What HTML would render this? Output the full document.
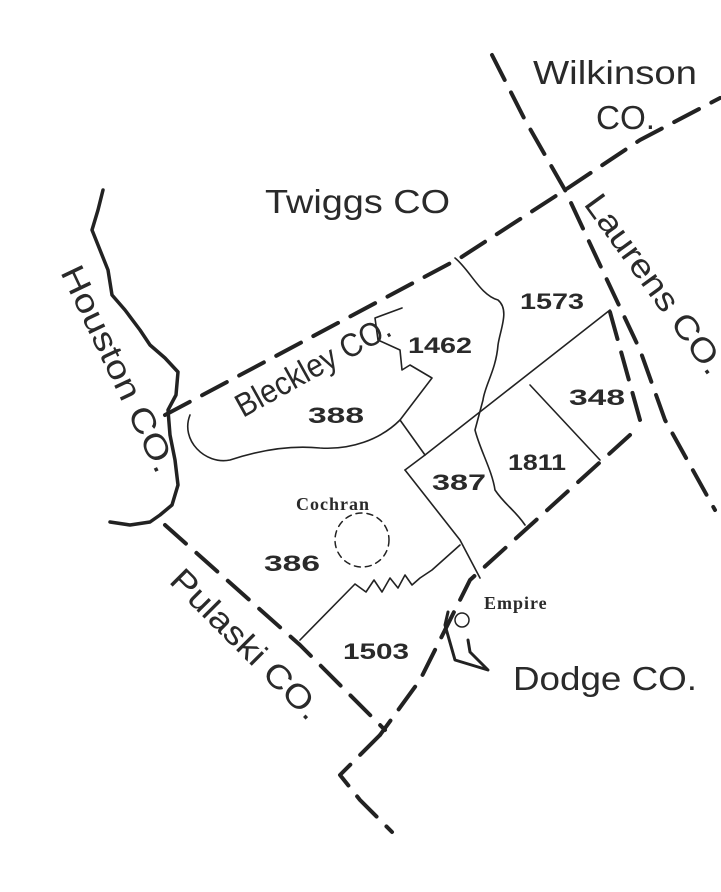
<!DOCTYPE html>
<html><head><meta charset="utf-8"><style>
html,body{margin:0;padding:0;background:#fff;}
svg{display:block}
text{font-family:"Liberation Sans",sans-serif;fill:#2a2a2a}
.s{font-family:"Liberation Serif",serif}
</style></head><body>
<svg width="721" height="892" viewBox="0 0 721 892">
<g fill="none" stroke="#222" stroke-linecap="round" stroke-linejoin="round">
<g stroke-width="4" stroke-dasharray="28,14">
<path d="M165,415 L460,258 L565,190 L640,140 L720,98"/>
<path d="M492,55 L525,120 L565,190 L600,265 L640,350 L665,420 L715,510"/>
<path d="M630,435 L470,580 L420,680 L380,735"/>
<path d="M165,525 L300,645 L385,730"/>
<path d="M380,735 L340,775 L360,800 L392,832"/>
<path d="M610,312 L640,420"/>
</g>
<path stroke-width="3.5" d="M103,190 L98,210 L92,230 L100,250 L108,270 L112,295 L125,310 L140,330 L150,345 L165,358 L178,372 L176,395 L168,410 L170,435 L175,460 L178,485 L172,505 L160,515 L150,522 L130,525 L110,522"/>
<g stroke-width="1.6">
<path d="M190,415 C180,440 205,465 230,460 C260,450 290,445 320,448 C350,450 380,440 400,420 L432,378 L410,365 L402,370 L400,350 L378,340 L375,318 L402,308"/>
<path d="M400,420 L425,455"/>
<path d="M425,455 L610,310"/>
<path d="M455,258 C470,270 480,295 498,300 C510,310 500,330 498,345 C496,370 485,385 483,400 L475,430 C480,450 492,470 495,490 C505,505 515,510 525,525"/>
<path d="M530,385 L600,460"/>
<path d="M405,470 L460,540 L480,578"/>
<path d="M460,545 L432,570 L420,578 L412,585 L405,575 L398,588 L390,578 L382,592 L374,580 L366,592 L355,584 L300,640"/>
<path d="M425,455 L405,470"/>
</g>
<circle cx="362" cy="540" r="27" stroke-width="1.5" stroke-dasharray="6,5"/>
<circle cx="462" cy="620" r="7" stroke-width="1.5"/>
<path stroke-width="3" d="M448,612 L445,625 L455,660 L488,670 L470,652 L468,640"/>
</g>
<g font-size="33" lengthAdjust="spacingAndGlyphs">
<text x="533" y="84" textLength="164" lengthAdjust="spacingAndGlyphs">Wilkinson</text>
<text x="596" y="129" textLength="59" lengthAdjust="spacingAndGlyphs">CO.</text>
<text x="265" y="213" textLength="185" lengthAdjust="spacingAndGlyphs">Twiggs CO</text>
<text x="513" y="690" textLength="184" lengthAdjust="spacingAndGlyphs">Dodge CO.</text>
<text transform="translate(583,204) rotate(54)" textLength="214" lengthAdjust="spacingAndGlyphs">Laurens CO.</text>
<text transform="translate(60,272) rotate(64.5)" textLength="225" lengthAdjust="spacingAndGlyphs">Houston CO.</text>
<text transform="translate(168,582) rotate(45)" textLength="198" lengthAdjust="spacingAndGlyphs">Pulaski CO.</text>
<text transform="translate(243,418) rotate(-29)" textLength="172" lengthAdjust="spacingAndGlyphs">Bleckley CO.</text>
</g>
<g font-size="22" font-weight="600">
<text x="408" y="353" textLength="64" lengthAdjust="spacingAndGlyphs">1462</text>
<text x="520" y="309" textLength="64" lengthAdjust="spacingAndGlyphs">1573</text>
<text x="569" y="405" textLength="56" lengthAdjust="spacingAndGlyphs">348</text>
<text x="308" y="423" textLength="56" lengthAdjust="spacingAndGlyphs">388</text>
<text x="508" y="470" textLength="58" lengthAdjust="spacingAndGlyphs">1811</text>
<text x="432" y="490" textLength="54" lengthAdjust="spacingAndGlyphs">387</text>
<text x="264" y="571" textLength="56" lengthAdjust="spacingAndGlyphs">386</text>
<text x="343" y="659" textLength="66" lengthAdjust="spacingAndGlyphs">1503</text>
</g>
<text class="s" x="296" y="510" font-size="18" font-weight="bold" letter-spacing="1">Cochran</text>
<text class="s" x="484" y="609" font-size="18" font-weight="bold" letter-spacing="1">Empire</text>
</svg>
</body></html>
